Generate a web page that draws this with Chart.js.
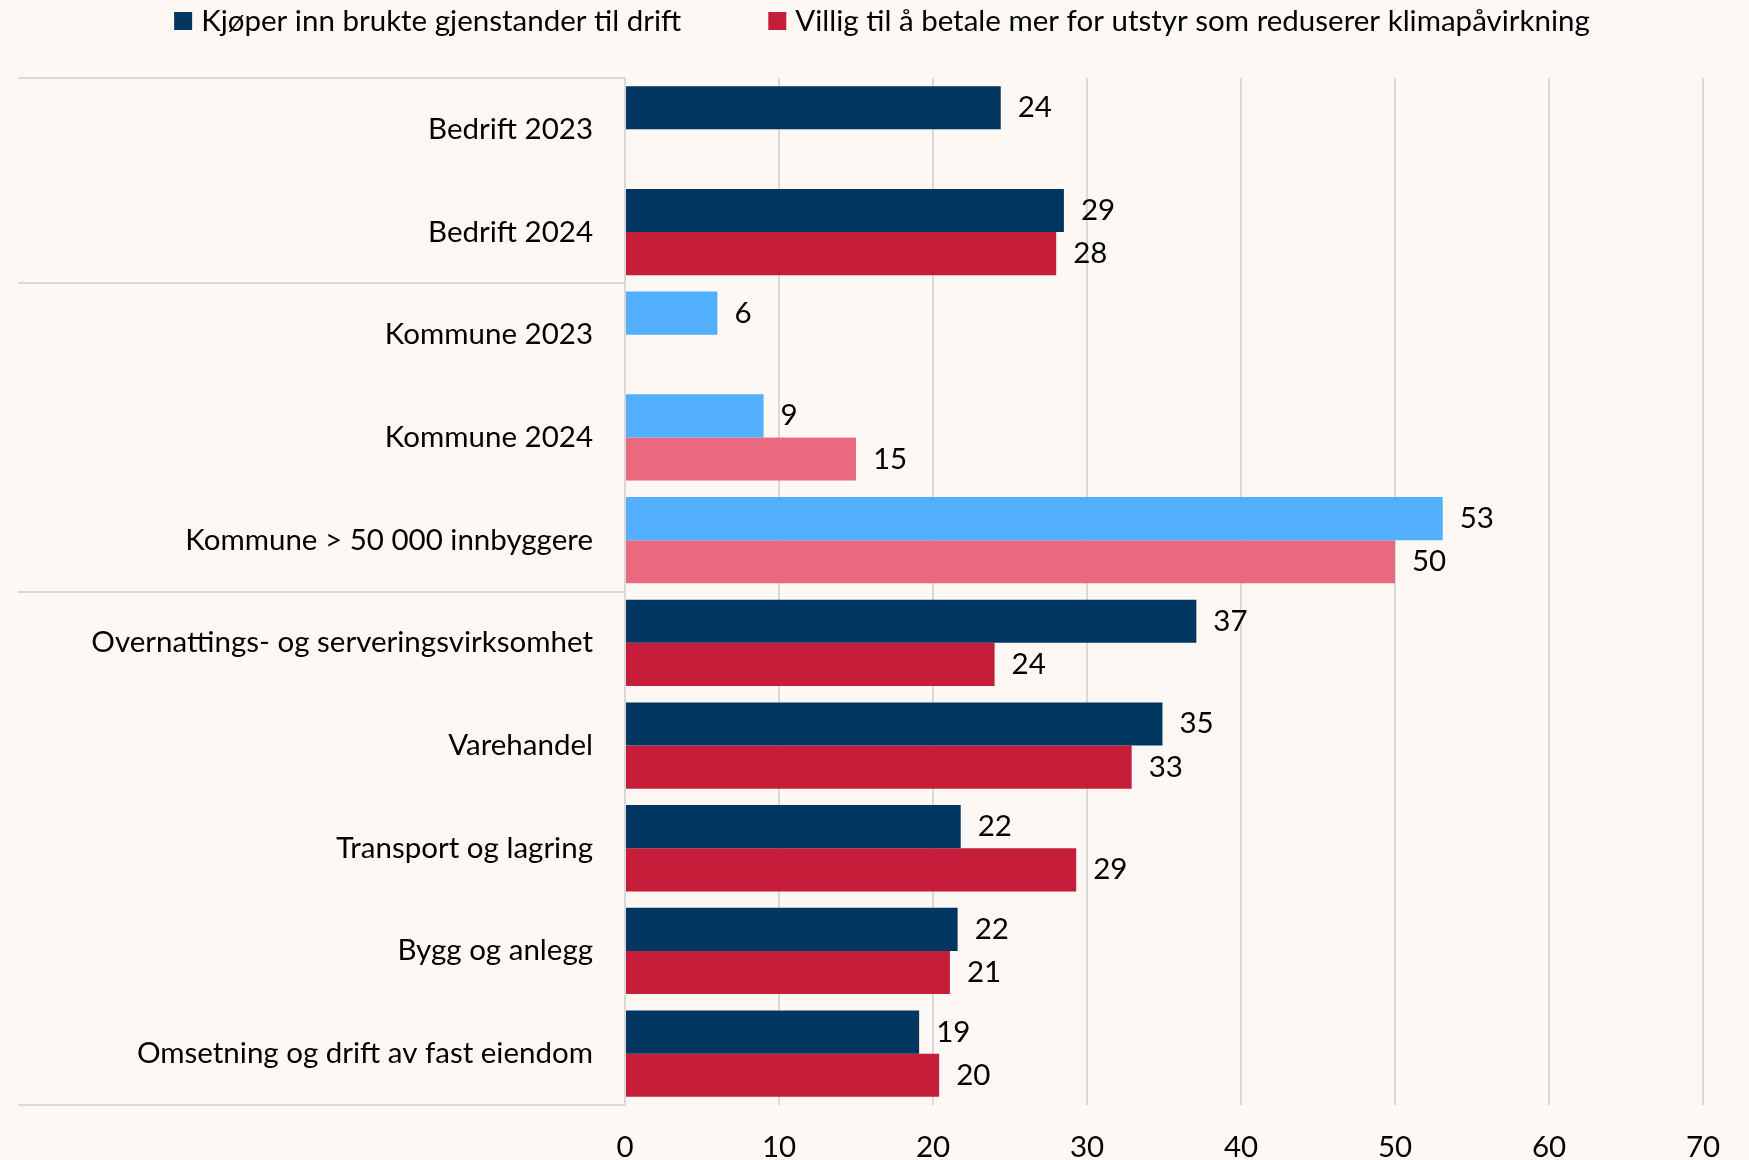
<!DOCTYPE html>
<html>
<head>
<meta charset="utf-8">
<script src="https://cdn.jsdelivr.net/npm/chart.js@4.4.1/dist/chart.umd.min.js"></script>
<style>
html,body{margin:0;padding:0;background:#fdf8f4;}
#wrap{width:1749px;height:1160px;}
</style>
</head>
<body>
<div id="wrap"><canvas id="myChart" width="1749" height="1160"></canvas></div>
<script>
var kategorier = ["Bedrift 2023","Bedrift 2024","Kommune 2023","Kommune 2024","Kommune > 50 000 innbyggere",
    "Overnattings- og serveringsvirksomhet","Varehandel","Transport og lagring","Bygg og anlegg","Omsetning og drift av fast eiendom"];
var brukte = [24.4,28.5,6,9,53.1,37.1,34.9,21.8,21.6,19.1];
var klima = [null,28,null,15,50,24,32.9,29.3,21.1,20.4];
var ticks_x = [0,10,20,30,40,50,60,70];
var grupper_slutt = [-1,1,4,9];

var blaa = "#003660", lyseblaa = "#52b0ff", rod = "#c61e3a", rosa = "#e96a7e";
var kommune = function(i){ return i >= 2 && i <= 4; };
var farger_brukte = kategorier.map((k,i)=> kommune(i) ? lyseblaa : blaa);
var farger_klima = kategorier.map((k,i)=> kommune(i) ? rosa : rod);
var fonten = "Lato";
var str = 29.5;

var verdier = {
    id: "verdier",
    afterDatasetsDraw: function(chart){
        var ctx = chart.ctx;
        ctx.save();
        ctx.font = str + "px " + fonten;
        ctx.fillStyle = "#000";
        ctx.textBaseline = "middle";
        ctx.textAlign = "left";
        chart.data.datasets.forEach((ds,d)=>{
            chart.getDatasetMeta(d).data.forEach((bar,i)=>{
                if(ds.data[i] == null) return;
                ctx.fillText(Math.round(ds.data[i]), bar.x + 17, bar.y);
            })
        })
        ctx.restore();
    }
};

var skille = {
    id: "skille",
    afterDraw: function(chart){
        var ctx = chart.ctx, y = chart.scales.y;
        ctx.save();
        ctx.strokeStyle = "#d9d9d9";
        ctx.lineWidth = 2;
        grupper_slutt.forEach(g=>{
            var py = Math.round(y.getPixelForValue(g + 0.5));
            ctx.beginPath();
            ctx.moveTo(18, py);
            ctx.lineTo(chart.chartArea.left, py);
            ctx.stroke();
        })
        ctx.restore();
    }
};

var forklaring = {
    id: "forklaring",
    afterDraw: function(chart){
        var ctx = chart.ctx;
        ctx.save();
        ctx.font = str + "px " + fonten;
        ctx.textBaseline = "middle";
        var items = [{t: chart.data.datasets[0].label, c: blaa},{t: chart.data.datasets[1].label, c: rod}];
        var box = 18, gap = 9, mellom = 87;
        var total = 0;
        items.forEach((it,i)=>{ it.w = ctx.measureText(it.t).width; total += box + gap + it.w + (i ? mellom : 0); });
        var x = 882 - total/2;
        items.forEach((it,i)=>{
            if(i) x += mellom;
            ctx.fillStyle = it.c;
            ctx.fillRect(x, 12, box, box);
            ctx.fillStyle = "#000";
            ctx.fillText(it.t, x + box + gap, 21);
            x += box + gap + it.w;
        })
        ctx.restore();
    }
};

var ctx = document.getElementById("myChart").getContext("2d");
var myChart = new Chart(ctx, {
    type: "bar",
    data: {
        labels: kategorier,
        datasets: [
            {label: "Kjøper inn brukte gjenstander til drift", data: brukte, backgroundColor: farger_brukte},
            {label: "Villig til å betale mer for utstyr som reduserer klimapåvirkning", data: klima, backgroundColor: farger_klima}
        ]
    },
    options: {
        indexAxis: "y",
        responsive: false,
        animation: false,
        devicePixelRatio: 1,
        categoryPercentage: 0.84,
        barPercentage: 1.0,
        layout: {padding: {top: 78, right: 46, left: 0, bottom: 0}},
        plugins: {legend: {display: false}, tooltip: {enabled: false}},
        scales: {
            x: {
                min: 0, max: 70,
                afterBuildTicks: function(s){ s.ticks = ticks_x.map(v=>({value: v})); },
                afterFit: function(s){ s.height = 55; },
                grid: {color: "#d9d9d9", lineWidth: 2, drawTicks: false},
                border: {display: false},
                ticks: {font: {family: fonten, size: str}, color: "#000", padding: 25}
            },
            y: {
                afterFit: function(s){ s.width = 625; },
                grid: {display: false, drawTicks: false},
                border: {display: true, color: "#d9d9d9", width: 2},
                ticks: {font: {family: fonten, size: str}, color: "#000", padding: 32}
            }
        }
    },
    plugins: [verdier, skille, forklaring]
});
</script>
</body>
</html>
